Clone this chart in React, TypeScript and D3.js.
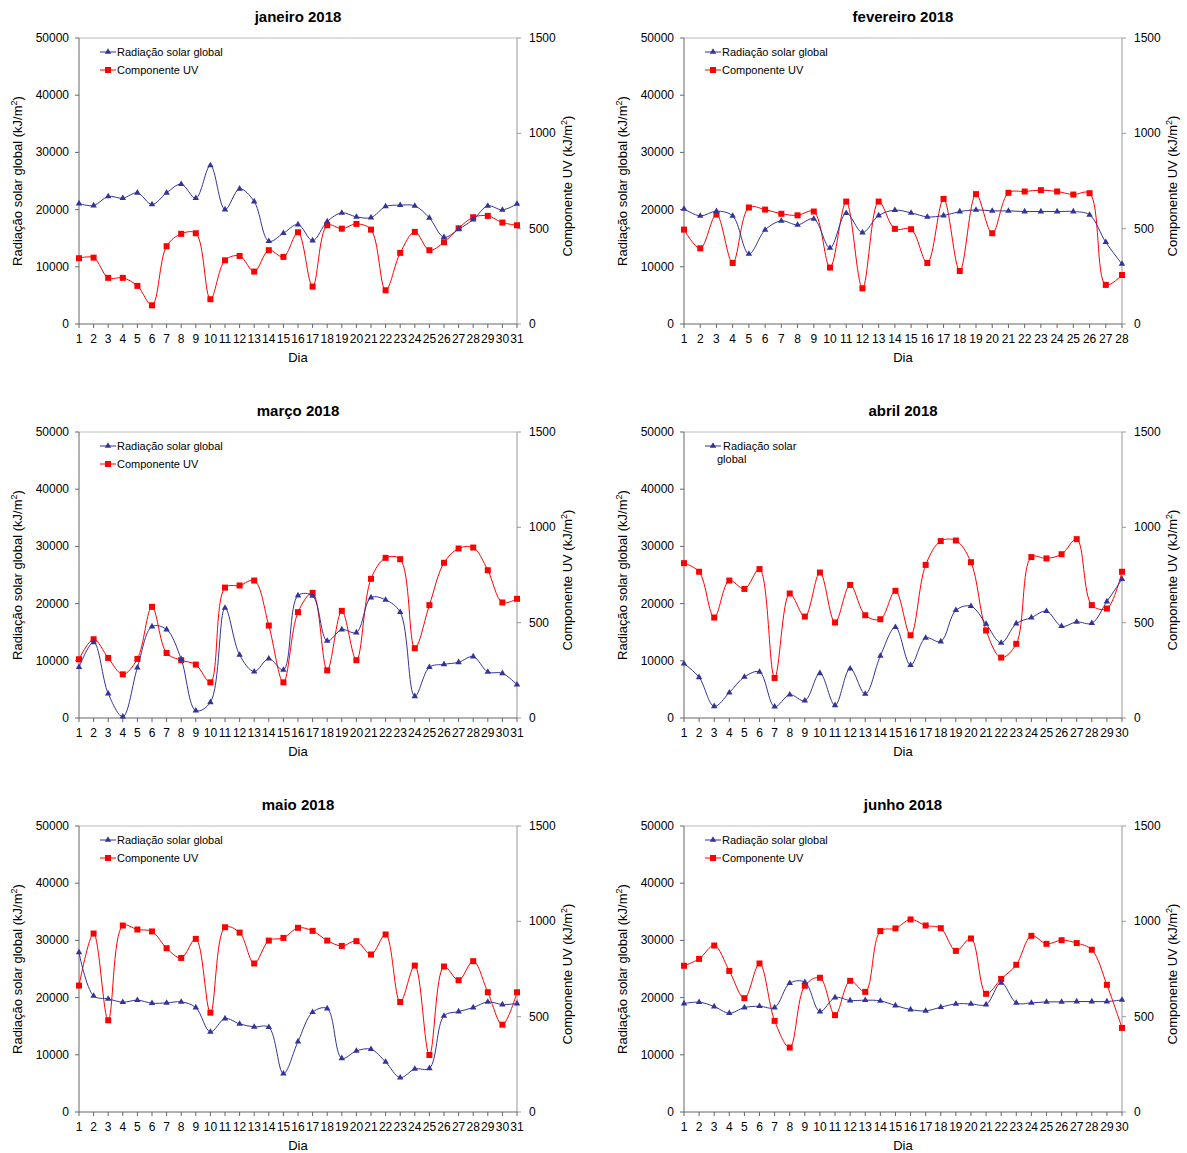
import * as d3 from 'd3';

const months = ['janeiro 2018', 'fevereiro 2018', 'março 2018', 'abril 2018', 'maio 2018', 'junho 2018'];

const janGlobal = [21060, 20710, 22290, 22000, 22930, 20890, 22930, 24450, 22000, 27710, 20010, 23630, 21410, 14470, 15870, 17390, 14590, 17910, 19430, 18730, 18610, 20540, 20770, 20650, 18550, 15170, 16570, 18260, 20650, 19950, 21000];
const janUV = [345, 348, 242, 242, 200, 98, 408, 473, 476, 130, 334, 357, 275, 387, 352, 481, 196, 518, 500, 525, 495, 177, 373, 483, 387, 429, 502, 560, 567, 532, 518];
const fevGlobal = [20130, 18900, 19720, 18900, 12250, 16450, 18030, 17330, 18380, 13300, 19370, 15990, 18960, 19900, 19430, 18730, 18960, 19660, 19950, 19780, 19780, 19660, 19660, 19660, 19660, 19080, 14290, 10500];
const fevUV = [495, 397, 574, 320, 611, 600, 578, 570, 590, 296, 642, 187, 642, 499, 497, 320, 656, 278, 681, 476, 688, 695, 702, 695, 679, 686, 205, 257];
const marGlobal = [8870, 13240, 4260, 230, 8810, 15990, 15460, 10270, 1280, 2740, 19250, 11030, 8110, 10380, 8400, 21410, 21350, 13480, 15460, 14940, 21060, 20650, 18490, 3790, 8870, 9390, 9740, 10740, 8050, 7820, 5830];
const marUV = [308, 413, 315, 229, 310, 583, 341, 303, 280, 187, 684, 695, 721, 485, 187, 555, 656, 250, 562, 303, 730, 840, 833, 366, 592, 814, 889, 894, 775, 606, 625];
const abrGlobal = [9510, 7120, 2040, 4430, 7180, 8050, 1980, 4080, 3030, 7820, 2220, 8630, 4200, 10850, 15870, 9220, 14000, 13360, 18840, 19540, 16450, 13130, 16510, 17560, 18670, 16040, 16800, 16570, 20360, 24270];
const abrUV = [812, 767, 527, 721, 677, 781, 210, 653, 532, 763, 501, 698, 539, 518, 667, 434, 803, 928, 931, 817, 459, 317, 389, 844, 837, 859, 938, 592, 574, 767];
const maiGlobal = [27890, 20300, 19780, 19200, 19550, 19020, 19080, 19250, 18260, 14000, 16340, 15400, 14880, 14820, 6710, 12310, 17440, 18090, 9390, 10680, 10970, 8750, 6010, 7530, 7640, 16800, 17560, 18260, 19250, 18790, 18960];
const maiUV = [663, 936, 481, 978, 957, 947, 859, 808, 908, 521, 969, 941, 779, 899, 913, 966, 950, 899, 871, 896, 826, 931, 577, 768, 299, 763, 691, 791, 628, 458, 628];
const junGlobal = [18960, 19200, 18440, 17270, 18260, 18490, 18260, 22520, 22700, 17560, 20010, 19490, 19550, 19430, 18610, 17910, 17680, 18320, 18900, 18900, 18790, 22580, 19080, 19080, 19250, 19250, 19310, 19310, 19310, 19600];
const junUV = [767, 803, 873, 740, 597, 779, 478, 338, 662, 704, 508, 688, 630, 949, 963, 1010, 978, 964, 845, 910, 620, 698, 772, 924, 882, 901, 886, 851, 667, 441];

const globalSeries = [janGlobal, fevGlobal, marGlobal, abrGlobal, maiGlobal, junGlobal];
const uvSeries = [janUV, fevUV, marUV, abrUV, maiUV, junUV];

const leftTicks = [0, 10000, 20000, 30000, 40000, 50000];
const rightTicks = [0, 500, 1000, 1500];

const font = 'Liberation Sans, Arial, sans-serif';
const BLUE = '#333399';
const RED = '#ff0000';

function Panel({ idx, ox, oy }: { idx: number; ox: number; oy: number }) {
  const g = globalSeries[idx];
  const uv = uvSeries[idx];
  const n = g.length;
  const days = d3.range(1, n + 1);
  const w = 438;
  const h = 286;
  const x = d3.scaleLinear().domain([1, n]).range([ox, ox + w]);
  const yL = d3.scaleLinear().domain([0, 50000]).range([oy + h, oy]);
  const yR = d3.scaleLinear().domain([0, 1500]).range([oy + h, oy]);
  const lineG = d3.line<number>().x((_, i) => x(i + 1)).y((d) => yL(d)).curve(d3.curveCatmullRom.alpha(0.5));
  const lineU = d3.line<number>().x((_, i) => x(i + 1)).y((d) => yR(d)).curve(d3.curveCatmullRom.alpha(0.5));
  const tri = d3.symbol(d3.symbolTriangle, 18)() ?? '';
  const cx = ox + w / 2;
  const onlyGlobal = idx === 3;
  return (
    <g fontFamily={font}>
      <text x={cx} y={oy - 16} textAnchor="middle" fontSize={15} fontWeight="bold">{months[idx]}</text>
      <line x1={ox} x2={ox + w} y1={oy} y2={oy} stroke="#bbb" />
      <line x1={ox + w} x2={ox + w} y1={oy} y2={oy + h} stroke="#999" />
      <line x1={ox} x2={ox} y1={oy} y2={oy + h} stroke="#666" />
      <line x1={ox} x2={ox + w} y1={oy + h} y2={oy + h} stroke="#666" />
      {leftTicks.map((t) => (
        <g key={t}>
          <line x1={ox - 4} x2={ox} y1={yL(t)} y2={yL(t)} stroke="#666" />
          <text x={ox - 10} y={yL(t) + 4} textAnchor="end" fontSize={12}>{t}</text>
        </g>
      ))}
      {rightTicks.map((t) => (
        <g key={t}>
          <line x1={ox + w} x2={ox + w + 4} y1={yR(t)} y2={yR(t)} stroke="#999" />
          <text x={ox + w + 12} y={yR(t) + 4} fontSize={12}>{t}</text>
        </g>
      ))}
      {days.map((d) => (
        <g key={d}>
          <line x1={x(d)} x2={x(d)} y1={oy + h} y2={oy + h + 4} stroke="#666" />
          <text x={x(d)} y={oy + h + 19} textAnchor="middle" fontSize={12}>{d}</text>
        </g>
      ))}
      <text x={cx} y={oy + h + 38} textAnchor="middle" fontSize={13}>Dia</text>
      <text transform={`translate(${ox - 57},${oy + h / 2}) rotate(-90)`} textAnchor="middle" fontSize={13}>
        Radiação solar global (kJ/m<tspan dy={-5} fontSize={9}>2</tspan><tspan dy={5}>)</tspan>
      </text>
      <text transform={`translate(${ox + w + 55},${oy + h / 2 + 5}) rotate(-90)`} textAnchor="middle" fontSize={13}>
        Componente UV (kJ/m<tspan dy={-5} fontSize={9}>2</tspan><tspan dy={5}>)</tspan>
      </text>
      <path d={lineU(uv) ?? ''} fill="none" stroke={RED} strokeWidth={1} />
      {uv.map((v, i) => (
        <rect key={i} x={x(i + 1) - 3} y={yR(v) - 3} width={6} height={6} fill={RED} />
      ))}
      <path d={lineG(g) ?? ''} fill="none" stroke={BLUE} strokeWidth={1} />
      {g.map((v, i) => (
        <path key={i} d={tri} transform={`translate(${x(i + 1)},${yL(v)})`} fill={BLUE} />
      ))}
      <g fontSize={11}>
        <line x1={ox + 21} x2={ox + 37} y1={oy + 14} y2={oy + 14} stroke={BLUE} />
        <path d={tri} transform={`translate(${ox + 29},${oy + 14})`} fill={BLUE} />
        {onlyGlobal ? (
          <>
            <text x={ox + 39} y={oy + 18}>Radiação solar</text>
            <text x={ox + 33} y={oy + 31}>global</text>
          </>
        ) : (
          <>
            <text x={ox + 38} y={oy + 18}>Radiação solar global</text>
            <line x1={ox + 21} x2={ox + 37} y1={oy + 32} y2={oy + 32} stroke={RED} />
            <rect x={ox + 26} y={oy + 29} width={6} height={6} fill={RED} />
            <text x={ox + 38} y={oy + 36}>Componente UV</text>
          </>
        )}
      </g>
    </g>
  );
}

export default function App() {
  const cols = [79, 684];
  const rows = [38, 432, 826];
  return (
    <svg width={1187} height={1153} style={{ position: 'absolute', left: 0, top: 0, background: '#fff' }}>
      <rect width={1187} height={1153} fill="#fff" />
      {months.map((_, i) => (
        <Panel key={i} idx={i} ox={cols[i % 2]} oy={rows[Math.floor(i / 2)]} />
      ))}
    </svg>
  );
}
